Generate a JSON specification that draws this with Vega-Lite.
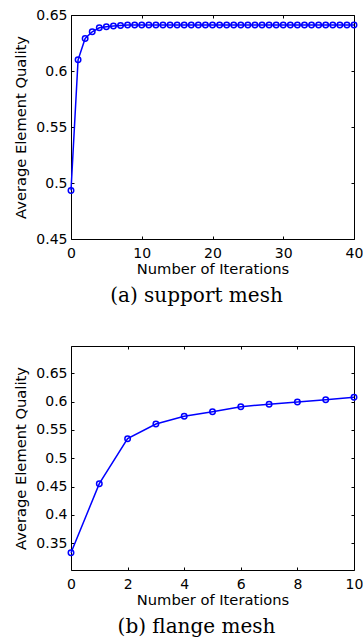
{
  "$schema": "https://vega.github.io/schema/vega-lite/v6.json",
  "background": "white",
  "padding": {"left": 13, "top": 7, "right": 5, "bottom": 0},
  "spacing": 38,
  "config": {
    "font": "DejaVu Sans",
    "view": {"stroke": "black", "strokeWidth": 1},
    "axis": {
      "grid": false, "domain": false, "tickColor": "black", "tickSize": -3, "tickWidth": 1,
      "labelFontSize": 14, "titleFontSize": 14.7, "labelColor": "black", "titleColor": "black",
      "titleFontWeight": "normal", "labelFont": "DejaVu Sans", "titleFont": "DejaVu Sans",
      "labelFlush": false, "labelOverlap": false, "format": "~r"
    },
    "axisBottom": {"labelPadding": 10, "titlePadding": 1},
    "axisLeft": {"labelPadding": 7, "titlePadding": 7},
    "title": {"font": "DejaVu Serif", "fontSize": 20, "fontWeight": "normal", "color": "black", "orient": "bottom", "anchor": "middle", "dx": -16, "offset": 10}
  },
  "vconcat": [
    {
      "width": 283, "height": 224,
      "title": {"text": "(a) support mesh"},
      "data": {"values": [
        {"iteration": 0, "quality": 0.4934},
        {"iteration": 1, "quality": 0.610},
        {"iteration": 2, "quality": 0.629},
        {"iteration": 3, "quality": 0.635},
        {"iteration": 4, "quality": 0.6386},
        {"iteration": 5, "quality": 0.6395},
        {"iteration": 6, "quality": 0.6401},
        {"iteration": 7, "quality": 0.6407},
        {"iteration": 8, "quality": 0.641},
        {"iteration": 9, "quality": 0.641},
        {"iteration": 10, "quality": 0.641},
        {"iteration": 11, "quality": 0.641},
        {"iteration": 12, "quality": 0.641},
        {"iteration": 13, "quality": 0.641},
        {"iteration": 14, "quality": 0.641},
        {"iteration": 15, "quality": 0.641},
        {"iteration": 16, "quality": 0.641},
        {"iteration": 17, "quality": 0.641},
        {"iteration": 18, "quality": 0.641},
        {"iteration": 19, "quality": 0.641},
        {"iteration": 20, "quality": 0.641},
        {"iteration": 21, "quality": 0.641},
        {"iteration": 22, "quality": 0.641},
        {"iteration": 23, "quality": 0.641},
        {"iteration": 24, "quality": 0.641},
        {"iteration": 25, "quality": 0.641},
        {"iteration": 26, "quality": 0.641},
        {"iteration": 27, "quality": 0.641},
        {"iteration": 28, "quality": 0.641},
        {"iteration": 29, "quality": 0.641},
        {"iteration": 30, "quality": 0.641},
        {"iteration": 31, "quality": 0.641},
        {"iteration": 32, "quality": 0.641},
        {"iteration": 33, "quality": 0.641},
        {"iteration": 34, "quality": 0.641},
        {"iteration": 35, "quality": 0.641},
        {"iteration": 36, "quality": 0.641},
        {"iteration": 37, "quality": 0.641},
        {"iteration": 38, "quality": 0.641},
        {"iteration": 39, "quality": 0.641},
        {"iteration": 40, "quality": 0.641}
      ]},
      "layer": [
        {
          "mark": {"type": "line", "color": "#0000ff", "strokeWidth": 1.5,
                   "point": {"shape": "circle", "filled": false, "size": 30, "strokeWidth": 1.5, "color": "#0000ff"}},
          "encoding": {
            "x": {"field": "iteration", "type": "quantitative", "scale": {"domain": [0, 40], "nice": false},
                  "axis": {"values": [0, 10, 20, 30, 40], "title": "Number of Iterations"}},
            "y": {"field": "quality", "type": "quantitative", "scale": {"domain": [0.45, 0.65], "nice": false, "zero": false},
                  "axis": {"values": [0.45, 0.5, 0.55, 0.6, 0.65], "title": "Average Element Quality"}}
          }
        },
        {
          "mark": {"type": "point", "opacity": 0},
          "encoding": {
            "x": {"field": "iteration", "type": "quantitative",
                  "axis": {"orient": "top", "values": [0, 10, 20, 30, 40], "labels": false, "title": null}},
            "y": {"field": "quality", "type": "quantitative",
                  "axis": {"orient": "right", "values": [0.45, 0.5, 0.55, 0.6, 0.65], "labels": false, "title": null}}
          }
        }
      ],
      "resolve": {"axis": {"x": "independent", "y": "independent"}}
    },
    {
      "width": 283, "height": 224,
      "title": {"text": "(b) flange mesh"},
      "data": {"values": [
        {"iteration": 0, "quality": 0.3334},
        {"iteration": 1, "quality": 0.4552},
        {"iteration": 2, "quality": 0.5346},
        {"iteration": 3, "quality": 0.5605},
        {"iteration": 4, "quality": 0.5741},
        {"iteration": 5, "quality": 0.5822},
        {"iteration": 6, "quality": 0.5910},
        {"iteration": 7, "quality": 0.5953},
        {"iteration": 8, "quality": 0.5993},
        {"iteration": 9, "quality": 0.6034},
        {"iteration": 10, "quality": 0.6076}
      ]},
      "layer": [
        {
          "mark": {"type": "line", "color": "#0000ff", "strokeWidth": 1.5,
                   "point": {"shape": "circle", "filled": false, "size": 30, "strokeWidth": 1.5, "color": "#0000ff"}},
          "encoding": {
            "x": {"field": "iteration", "type": "quantitative", "scale": {"domain": [0, 10], "nice": false},
                  "axis": {"values": [0, 2, 4, 6, 8, 10], "title": "Number of Iterations"}},
            "y": {"field": "quality", "type": "quantitative", "scale": {"domain": [0.303, 0.698], "nice": false, "zero": false},
                  "axis": {"values": [0.35, 0.4, 0.45, 0.5, 0.55, 0.6, 0.65], "title": "Average Element Quality"}}
          }
        },
        {
          "mark": {"type": "point", "opacity": 0},
          "encoding": {
            "x": {"field": "iteration", "type": "quantitative",
                  "axis": {"orient": "top", "values": [0, 2, 4, 6, 8, 10], "labels": false, "title": null}},
            "y": {"field": "quality", "type": "quantitative",
                  "axis": {"orient": "right", "values": [0.35, 0.4, 0.45, 0.5, 0.55, 0.6, 0.65], "labels": false, "title": null}}
          }
        }
      ],
      "resolve": {"axis": {"x": "independent", "y": "independent"}}
    }
  ]
}
